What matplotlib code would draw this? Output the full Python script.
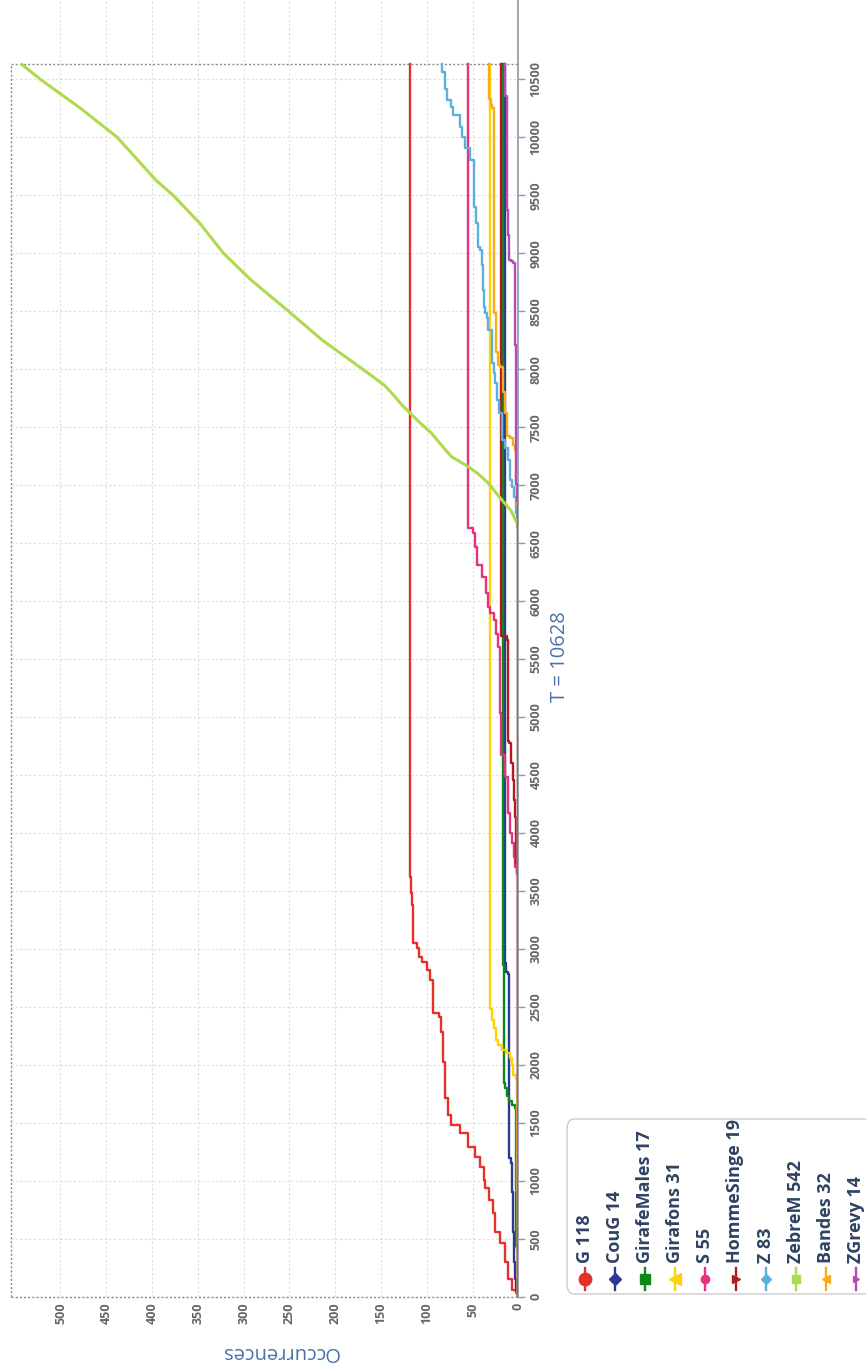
import matplotlib
matplotlib.use("Agg")
import matplotlib.pyplot as plt
from matplotlib.lines import Line2D
from matplotlib.patches import FancyBboxPatch

plt.rcParams['font.family'] = ['Open Sans', 'DejaVu Sans']

T_END = 10628

# series: T where the count changes, and cumulative count from that T
g_t = [0, 30, 60, 150, 300, 460, 560, 720, 830, 935, 1005, 1120, 1205, 1290, 1410, 1480,
       1565, 1710, 2025, 2285, 2415, 2445, 2730, 2815, 2885, 2930, 3005, 3050, 3380, 3480, 3620]
g_n = [0, 3, 7, 11, 14, 20, 25, 28, 32, 36, 38, 42, 47, 55, 64, 73,
       77, 80, 82, 84, 87, 93, 96, 100, 105, 108, 111, 115, 116, 117, 118]

coug_t = [0, 30, 60, 150, 300, 560, 900, 1150, 1195, 2780, 2800, 2880]
coug_n = [0, 1, 2, 4, 5, 6, 7, 8, 10, 11, 13, 14]

gmales_t = [0, 420, 440, 560, 1630, 1650, 1690, 1730, 1800, 1840, 2860]
gmales_n = [0, 1, 2, 3, 4, 7, 10, 12, 14, 16, 17]

girafons_t = [0, 900, 1880, 1910, 2000, 2055, 2100, 2130, 2170, 2215, 2315, 2385, 2485]
girafons_n = [0, 1, 2, 6, 7, 9, 13, 18, 22, 24, 27, 29, 31]

s_t = [0, 3635, 3710, 3795, 3910, 4000, 4170, 4485, 4670, 5035, 5605, 5720, 5835, 5895,
       5950, 6070, 6210, 6310, 6470, 6585, 6630]
s_n = [0, 1, 4, 5, 7, 9, 11, 14, 19, 20, 22, 24, 27, 31,
       33, 35, 40, 45, 47, 49, 55]

homme_t = [0, 3655, 3740, 3935, 4140, 4285, 4455, 4600, 4775, 4790, 5660, 5700]
homme_n = [0, 1, 2, 3, 4, 5, 6, 8, 10, 11, 12, 19]

z_t = [0, 6640, 6760, 6800, 6900, 6985, 7045, 7220, 7320, 7390, 7620, 7735, 7880, 7965, 8050,
       8340, 8440, 8485, 8540, 8685, 8900, 9030, 9055, 9260, 9400, 9805, 9905, 10005, 10090,
       10190, 10265, 10320, 10420, 10560]
z_n = [0, 1, 2, 3, 5, 7, 9, 11, 14, 18, 21, 23, 25, 27, 29,
       33, 34, 36, 37, 39, 40, 42, 44, 46, 48, 53, 58, 62, 64,
       71, 74, 78, 80, 83]

zebre_t = [0, 6650, 6700, 6780, 6910, 7020, 7105, 7175, 7245, 7345, 7450, 7535, 7620, 7690,
           7775, 7860, 8000, 8250, 8500, 8770, 9000, 9260, 9500, 9632, 10000, 10250, 10500, 10628]
zebre_n = [0, 0, 3, 8, 22, 33, 45, 58, 73, 84, 95, 107, 118, 127,
           136, 146, 170, 214, 251, 292, 322, 348, 377, 396, 438, 478, 522, 542]

bandes_t = [0, 6830, 7020, 7245, 7300, 7345, 7405, 7420, 7620, 7800, 8020, 8035, 8150, 8485,
            10190, 10250, 10280, 10330]
bandes_n = [0, 1, 2, 3, 4, 6, 9, 12, 14, 17, 20, 22, 24, 26,
            27, 29, 30, 32]

zgrevy_t = [0, 6860, 7010, 8210, 8915, 8930, 8940, 9155, 9370, 10360]
zgrevy_n = [0, 1, 3, 4, 6, 8, 10, 11, 12, 14]

names = ['G', 'CouG', 'GirafeMales', 'Girafons', 'S', 'HommeSinge', 'Z', 'ZebreM', 'Bandes', 'ZGrevy']
totals = [118, 14, 17, 31, 55, 19, 83, 542, 32, 14]
colors = ['#e4322b', '#2b3990', '#0a8a1a', '#ffd200', '#e8317e', '#b01c24',
          '#5bb0dc', '#aedb4c', '#f9ac1b', '#b54bb4']
markers = ['o', 'D', 's', '<', 'o', '>', 'D', 's', '<', '>']
msizes = [9, 6, 7, 8, 6, 6, 5, 6, 6, 5]
series_t = [g_t, coug_t, gmales_t, girafons_t, s_t, homme_t, z_t, zebre_t, bandes_t, zgrevy_t]
series_n = [g_n, coug_n, gmales_n, girafons_n, s_n, homme_n, z_n, zebre_n, bandes_n, zgrevy_n]

W, H = 866, 1368
fig = plt.figure(figsize=(W / 100, H / 100), dpi=100)
ax_l, ax_r, ax_t, ax_b = 11, 518.3, 0, 1296.7
ax = fig.add_axes([ax_l / W, 1 - ax_b / H, (ax_r - ax_l) / W, (ax_b - ax_t) / H])

# chart is drawn turned a quarter turn: T runs upwards, occurrences run leftwards
for i in range(len(names)):
    t = list(series_t[i])
    n = list(series_n[i])
    if t[-1] < T_END:
        t.append(T_END)
        n.append(n[-1])
    if names[i] == 'ZebreM':
        ax.plot(n, t, color=colors[i], lw=2.2, zorder=3)
    else:
        ax.plot(n, t, color=colors[i], lw=1.7, drawstyle='steps-pre', zorder=3)

ax.set_xlim(554, 0)
ax.set_ylim(0, 11184)
ax.set_xticks(range(0, 501, 50))
ax.set_yticks(range(0, 10501, 500))

ax.grid(True, color='#dddddd', linestyle=(0, (2, 2)), linewidth=0.8)
ax.set_axisbelow(True)

for s in ['left', 'top', 'bottom']:
    ax.spines[s].set_visible(False)
ax.spines['right'].set_color('#8c96a8')
ax.spines['right'].set_linewidth(1.2)

ax.yaxis.tick_right()
ax.tick_params(axis='y', length=5, width=1, color='#8c96a8', pad=3)
ax.tick_params(axis='x', length=0, pad=4)
for lab in ax.get_yticklabels():
    lab.set_rotation(90)
    lab.set_va('center')
    lab.set_ha('left')
    lab.set_fontweight('bold')
    lab.set_fontsize(9)
    lab.set_color('#666666')
for lab in ax.get_xticklabels():
    lab.set_rotation(90)
    lab.set_va('top')
    lab.set_ha('center')
    lab.set_fontweight('bold')
    lab.set_fontsize(9)
    lab.set_color('#666666')

# dotted frame round the data range
dot = dict(color='#8a8a8a', linestyle=(0, (1.5, 1.5)), linewidth=1, zorder=2, clip_on=False)
ax.plot([554, 0], [0, 0], **dot)
ax.plot([554, 0], [T_END, T_END], **dot)
ax.plot([554, 554], [0, T_END], **dot)

fig.text(560 / W, 1 - 657 / H, 'T = 10628', rotation=90, ha='center', va='center',
         fontsize=14.5, color='#4a72a8')
fig.text(280 / W, 1 - 1352 / H, 'Occurrences', rotation=180, ha='center', va='center',
         fontsize=14.5, color='#4a72a8')

# legend, turned like the chart
box = FancyBboxPatch((567 / W, 1 - 1294 / H), 320 / W, 175 / H,
                     boxstyle='round,pad=0,rounding_size=0.008',
                     transform=fig.transFigure, facecolor='white', edgecolor='#cccccc', lw=1)
fig.patches.append(box)
for i in range(len(names)):
    xc = (585 + 30.1 * i) / W
    fig.lines.append(Line2D([xc, xc], [1 - 1268 / H, 1 - 1290 / H], transform=fig.transFigure,
                            color=colors[i], lw=1.7))
    fig.lines.append(Line2D([xc], [1 - 1279 / H], transform=fig.transFigure, color=colors[i],
                            marker=markers[i], markersize=msizes[i], lw=0))
    fig.text(xc, 1 - 1263 / H, names[i] + ' ' + str(totals[i]), rotation=90, ha='center',
             va='bottom', fontsize=13, fontweight='bold', color='#2f4262')

fig.savefig('out.png', dpi=100)
